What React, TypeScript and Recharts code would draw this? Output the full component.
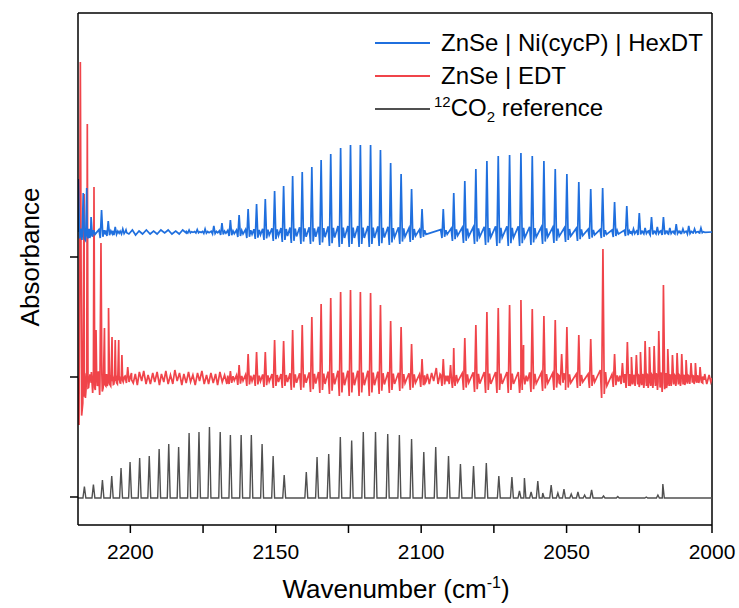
import { LineChart, Line, XAxis, YAxis, Legend, ReferenceLine } from 'recharts'

const FONT = '"Liberation Sans", Arial, Helvetica, sans-serif'

const hexColor = '#1f6fde'
const edtColor = '#f0444a'
const refColor = '#505050'

// vertical offsets of the stacked traces (arbitrary absorbance units)
const hexBase = 265
const edtBase = 119
const refBase = -1

// [wavenumber, height above baseline, ringing depth]
const hexPeaks: number[][] = [
  [2217.9, 53, 8], [2216.2, 39, 8], [2215.0, 44, 8], [2213.5, 15, 6], [2209.9, 22, 6],
  [2207.6, 11, 4], [2205.2, 5, 3], [2202.6, 3, 2],
  [2179.8, 2, 1], [2177.0, 2.5, 1], [2174.3, 3, 1.5], [2171.3, 6, 2], [2168.5, 9, 3],
  [2165.6, 12, 4], [2162.6, 17, 5], [2159.5, 23, 6], [2156.6, 28, 7], [2153.6, 33, 8],
  [2150.4, 41, 9], [2147.3, 46, 10], [2144.2, 56, 11], [2140.9, 60, 12], [2137.6, 65, 12],
  [2134.4, 72, 13], [2131.1, 78, 14], [2127.7, 84, 15], [2124.3, 87, 15], [2120.9, 87, 15],
  [2117.4, 87, 15], [2114.0, 82, 14], [2110.5, 69, 13], [2106.9, 58, 12], [2103.3, 43, 10],
  [2099.7, 23, 6],
  [2092.4, 23, 6], [2088.8, 39, 9], [2085.0, 51, 11], [2081.2, 63, 12], [2077.4, 71, 13],
  [2073.5, 76, 14], [2069.6, 77, 14], [2065.7, 79, 14], [2061.8, 76, 13], [2057.8, 71, 12],
  [2053.9, 63, 11], [2049.9, 58, 10], [2045.8, 50, 9], [2041.7, 43, 7], [2037.6, 44, 6],
  [2033.5, 30, 5], [2029.3, 26, 4], [2027.0, 3, 2], [2025.0, 19, 3], [2023.0, 4, 2],
  [2020.8, 15, 3], [2018.8, 5, 2], [2016.7, 15, 3], [2014.5, 4, 2], [2012.3, 8, 2],
  [2010.0, 3, 1], [2008.0, 6, 2], [2006.0, 3, 1], [2003.8, 4, 1],
]

const edtPeaks: number[][] = [
  [2217.2, 316, 47], [2215.9, 184, 25], [2214.8, 254, 12], [2212.5, 191, 15], [2211.8, 48, 10],
  [2210.1, 135, 17], [2208.9, 50, 10], [2207.5, 70, 8], [2206.3, 41, 8], [2205.2, 38, 6],
  [2204.0, 38, 6], [2202.9, 23, 5], [2200.9, 11, 5],
  [2165.6, 7, 6], [2162.6, 13, 7], [2159.5, 24, 8], [2156.6, 26, 8], [2153.6, 26, 9],
  [2150.4, 38, 10], [2147.3, 37, 10], [2144.2, 48, 12], [2140.9, 53, 12], [2137.6, 61, 14],
  [2134.4, 74, 15], [2131.1, 80, 16], [2127.7, 86, 18], [2124.3, 88, 18], [2120.9, 86, 18],
  [2117.4, 85, 18], [2114.0, 73, 16], [2110.5, 57, 15], [2106.9, 51, 13], [2103.3, 34, 12],
  [2099.7, 19, 9],
  [2092.4, 19, 8], [2089.9, 13, 6], [2088.8, 30, 10], [2085.0, 40, 12], [2081.2, 53, 14],
  [2077.4, 66, 15], [2073.5, 70, 15], [2069.6, 73, 15], [2065.7, 78, 15], [2064.8, 33, 8],
  [2061.8, 69, 14], [2057.8, 62, 13], [2053.9, 58, 12], [2051.7, 24, 6], [2049.9, 51, 12],
  [2045.8, 43, 10], [2041.7, 39, 10], [2037.5, 129, 20], [2033.5, 24, 9], [2030.8, 15, 6],
  [2029.1, 36, 10], [2027.7, 21, 8], [2026.0, 23, 8], [2024.6, 26, 9], [2023.0, 37, 10],
  [2021.5, 31, 10], [2019.9, 32, 10], [2018.3, 47, 12], [2016.7, 93, 14], [2015.2, 29, 10],
  [2013.6, 23, 8], [2012.0, 25, 8], [2010.4, 24, 8], [2008.9, 18, 7], [2007.2, 15, 6],
  [2005.7, 15, 6], [2004.1, 11, 5],
]

// [wavenumber, height above baseline]
const refPeaks: number[][] = [
  [2215.8, 11.5], [2212.7, 13.5], [2209.6, 18], [2206.4, 22], [2203.2, 30], [2200.1, 36],
  [2196.8, 40], [2193.5, 42], [2190.1, 49], [2186.8, 54], [2183.4, 51], [2179.8, 65],
  [2176.4, 66], [2172.8, 71], [2169.1, 66], [2165.6, 63], [2161.9, 63], [2158.4, 63],
  [2154.7, 54], [2150.9, 42], [2147.1, 23],
  [2139.5, 26], [2135.8, 41], [2131.8, 44], [2127.8, 61], [2123.9, 57.5], [2119.9, 66],
  [2115.7, 66], [2111.5, 64], [2107.5, 63], [2103.3, 59], [2099.1, 46], [2095.0, 51],
  [2090.6, 42], [2086.5, 34], [2082.0, 32], [2077.6, 35], [2073.3, 22], [2068.8, 21],
  [2066.2, 7], [2064.5, 20], [2062.2, 6], [2059.9, 17], [2058.2, 5], [2055.3, 13],
  [2053.0, 5], [2050.9, 9], [2048.4, 4], [2046.1, 6], [2043.8, 3], [2041.4, 8],
  [2037.3, 2], [2032.4, 1.5], [2022.6, 1], [2018.6, 3], [2016.9, 14],
]

// baseline noise, [wavenumber, offset]
const edtNoise: number[][] = [
  [2199.6, 5], [2199.0, -5], [2198.3, 4], [2197.6, -7], [2196.9, 6], [2196.1, -3], [2195.4, 7],
  [2194.6, -6], [2193.9, 3], [2193.1, -6], [2192.3, 5], [2191.6, -4], [2190.8, 6], [2190.0, -7],
  [2189.3, 4], [2188.5, -4], [2187.8, 7], [2187.0, -6], [2186.2, 3], [2185.4, -6], [2184.7, 8],
  [2183.9, -3], [2183.1, 5], [2182.3, -7], [2181.6, 4], [2180.8, -5], [2180.0, 6], [2179.3, -4],
  [2178.5, 3], [2177.7, -7], [2176.9, 5], [2176.2, -3], [2175.4, 7], [2174.6, -6], [2173.8, 3],
  [2173.1, -6], [2172.3, 5], [2171.5, -5], [2170.7, 4], [2170.0, -7], [2169.2, 6], [2168.4, -4],
  [2167.6, 3], [2166.8, -6],
  [2098.6, -5], [2097.9, 4], [2097.2, -6], [2096.4, 5], [2095.7, -3], [2094.8, 10], [2094.2, -6],
  [2093.5, 4],
  [2003.2, -5], [2002.5, 4], [2001.8, -6], [2001.0, 3], [2000.4, -4],
]

const hexNoise: number[][] = [
  [2201.5, 2], [2200.5, -2], [2199.3, 2], [2198.2, -3], [2197.0, 1], [2195.8, -2], [2194.5, 2],
  [2193.2, -2], [2192.0, 1], [2190.8, -2], [2189.5, 2], [2188.2, -1], [2187.0, 2], [2185.7, -2],
  [2184.4, 1], [2183.2, -2], [2182.0, 2], [2180.8, -1],
]

const xTicks = [2000, 2025, 2050, 2075, 2100, 2125, 2150, 2175, 2200]
const yTicks = [0, 120, 240]

type Pt = { x: number; y: number }

function buildTrace(base: number, peaks: number[][], noise: number[][], w: number): Pt[] {
  const pts: Pt[] = [{ x: 2218, y: base }, { x: 2000, y: base }]
  for (const [x, h, d = 0] of peaks) {
    pts.push(
      { x: x + 2 * w, y: base + 0.4 * d },
      { x: x + w, y: base - d },
      { x, y: base + h },
      { x: x - w, y: base - 0.8 * d },
      { x: x - 2 * w, y: base + 0.3 * d },
      { x: x - 3 * w, y: base - 0.4 * d },
    )
  }
  for (const [x, v] of noise) pts.push({ x, y: base + v })
  return pts.filter((p) => p.x <= 2218 && p.x >= 2000).sort((a, b) => b.x - a.x)
}

const hexData = buildTrace(hexBase, hexPeaks, hexNoise, 0.45)
const edtData = buildTrace(edtBase, edtPeaks, edtNoise, 0.45)
const refData = buildTrace(refBase, refPeaks, [], 0.5)

function XTitle() {
  return (
    <text x={396} y={598} textAnchor="middle" fontSize={26} fontFamily={FONT} fill="#000">
      Wavenumber (cm<tspan dy={-10} fontSize={16}>-1</tspan><tspan dy={10}>)</tspan>
    </text>
  )
}

function YTitle() {
  return (
    <text x={39} y={257} textAnchor="middle" fontSize={26} fontFamily={FONT} fill="#000"
      transform="rotate(-90, 39, 257)">
      Absorbance
    </text>
  )
}

function LegendBox() {
  const rows = [
    { color: hexColor, label: <span>ZnSe | Ni(cycP) | HexDT</span>, gap: 11 },
    { color: edtColor, label: <span>ZnSe | EDT</span>, gap: 11 },
    {
      color: refColor,
      gap: 4,
      label: (
        <span>
          <span style={{ fontSize: 15, position: 'relative', top: -9 }}>12</span>CO
          <span style={{ fontSize: 15, position: 'relative', top: 6 }}>2</span> reference
        </span>
      ),
    },
  ]
  return (
    <div style={{ fontFamily: FONT, fontSize: 24, color: '#000' }}>
      {rows.map((r, i) => (
        <div key={i} style={{ display: 'flex', alignItems: 'center', height: 33 }}>
          <div style={{ width: 55, height: 2, background: r.color }} />
          <div style={{ marginLeft: r.gap, whiteSpace: 'nowrap', lineHeight: '33px' }}>{r.label}</div>
        </div>
      ))}
    </div>
  )
}

export default function App() {
  return (
    <div style={{ position: 'absolute', left: 0, top: 0, width: 739, height: 608, background: '#fff' }}>
      <LineChart width={739} height={608} margin={{ top: 13, right: 27, bottom: 0, left: 0 }}>
        <XAxis
          type="number"
          dataKey="x"
          domain={[2000, 2218]}
          reversed
          allowDataOverflow
          ticks={xTicks}
          interval={0}
          tickFormatter={(v: number) => (v % 50 === 0 ? String(v) : '')}
          tickSize={8}
          tickMargin={11}
          height={83}
          axisLine={{ stroke: '#000', strokeWidth: 1.5 }}
          tickLine={{ stroke: '#000', strokeWidth: 1.5 }}
          tick={{ fontSize: 21, fill: '#000', fontFamily: FONT }}
          label={<XTitle />}
        />
        <YAxis
          type="number"
          domain={[-28, 484]}
          allowDataOverflow
          ticks={yTicks}
          interval={0}
          tickFormatter={() => ''}
          tickSize={8}
          width={78}
          axisLine={{ stroke: '#000', strokeWidth: 1.5 }}
          tickLine={{ stroke: '#000', strokeWidth: 1.5 }}
          label={<YTitle />}
        />
        <ReferenceLine y={484} stroke="#000" strokeWidth={1.5} />
        <ReferenceLine x={2000} stroke="#000" strokeWidth={1.5} />
        <Legend
          layout="horizontal"
          verticalAlign="middle"
          align="center"
          content={() => <LegendBox />}
          wrapperStyle={{ left: 375, top: 26, width: 'auto', height: 'auto' }}
        />
        <Line data={refData} dataKey="y" type="linear" stroke={refColor} strokeWidth={1.4} dot={false}
          isAnimationActive={false} />
        <Line data={edtData} dataKey="y" type="linear" stroke={edtColor} strokeWidth={1.7} dot={false}
          isAnimationActive={false} />
        <Line data={hexData} dataKey="y" type="linear" stroke={hexColor} strokeWidth={1.7} dot={false}
          isAnimationActive={false} />
      </LineChart>
    </div>
  )
}
